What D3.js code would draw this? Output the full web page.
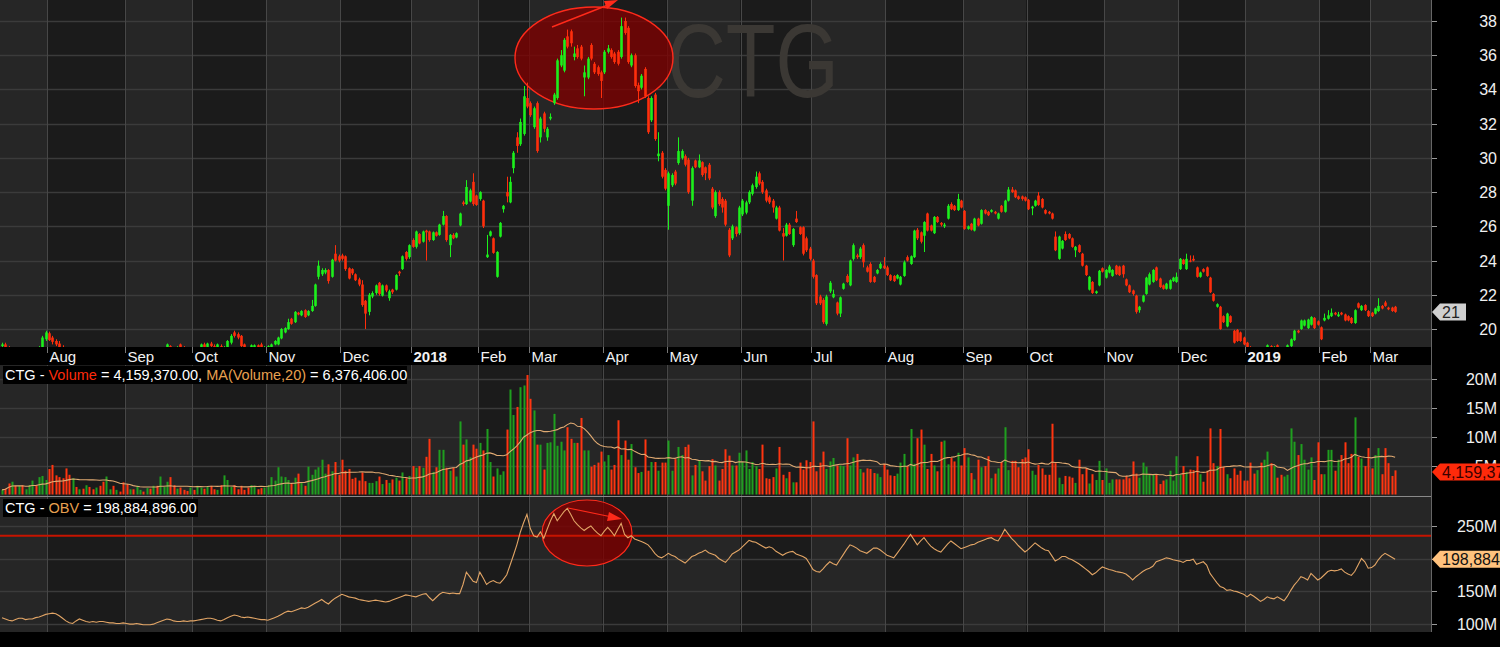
<!DOCTYPE html>
<html><head><meta charset="utf-8">
<script src="https://cdn.jsdelivr.net/npm/d3@7/dist/d3.min.js"></script>
<style>html,body{margin:0;padding:0;background:#000;overflow:hidden}</style>
</head><body>
<svg id="c" width="1500" height="647"></svg>
<script>
// ---------------- DATA ----------------
const ticker = "CTG";
const monthStarts = [14,37,57,79,101,122,142,157,179,198,220,241,263,286,305,328,350,370,392,407];
const monthLabels = ["Aug","Sep","Oct","Nov","Dec","2018","Feb","Mar","Apr","May","Jun","Jul","Aug","Sep","Oct","Nov","Dec","2019","Feb","Mar"];
const priceTicks = [20,22,24,26,28,30,32,34,36,38];
const volTicks = [5,10,15,20];           // millions
const obvTicks = [100,150,200,250];      // millions
const obvLevel = 235;                    // red horizontal reference line (millions)
const maLastValue = 6376406;             // MA(Volume,20) shown in the header

const open = [
19.0,19.1,18.9,18.7,18.8,18.6,18.7,18.5,18.6,18.7,
18.8,18.7,18.9,19.4,19.75,19.5,19.3,19.15,18.95,18.7,
18.6,18.4,18.5,18.3,18.4,18.2,18.3,18.2,18.1,18.3,
18.2,18.0,18.1,18.2,18.1,18.3,18.2,18.1,18.0,18.2,
18.1,18.2,18.4,18.3,18.5,18.4,18.6,18.5,18.7,18.8,
19.0,18.8,18.7,19.1,18.9,18.7,18.6,18.7,18.6,18.8,
19.1,18.95,19.15,19.0,18.9,19.0,18.8,18.9,19.2,19.8,
19.7,19.6,19.1,18.8,18.9,18.95,19.05,19.1,18.85,18.9,
18.95,19.1,19.1,19.45,19.8,20.0,20.6,20.4,20.95,20.8,
21.1,20.8,21.05,21.35,23.05,23.2,23.3,23.45,23.05,24.4,
24.25,24.3,24.25,23.55,23.5,23.2,22.9,22.6,21.65,21.0,
21.9,22.1,22.7,21.95,22.55,21.8,22.3,22.3,23.35,23.5,
24.5,24.2,25.2,24.8,25.55,25.1,25.75,25.7,25.2,25.65,
25.5,26.1,26.6,24.9,25.5,25.35,26.05,27.4,27.3,27.45,
28.6,27.8,27.6,27.5,24.2,25.45,25.3,23.05,25.4,27.0,
28.0,27.4,29.4,31.2,30.8,31.4,33.5,33.2,31.8,33.2,
31.2,32.6,31.2,32.3,33.2,33.5,35.4,35.1,37.1,37.4,
35.9,36.4,36.5,34.7,34.7,36.6,35.5,35.3,35.0,35.0,
36.2,36.3,36.1,36.2,35.9,38.0,37.6,35.4,36.0,34.25,
34.1,35.2,33.5,32.2,33.7,30.1,30.3,29.3,27.2,28.4,
29.2,29.7,30.0,30.1,29.9,27.5,29.85,29.45,29.75,29.45,
29.6,28.2,26.6,28.0,27.6,27.5,25.8,25.3,25.95,25.6,
26.7,26.8,27.4,27.9,28.3,29.1,28.6,28.1,27.7,27.5,
26.45,27.1,25.6,25.45,26.1,24.9,26.45,25.95,25.95,25.3,
24.7,24.0,23.15,21.9,21.7,20.3,22.2,21.85,21.55,20.9,
22.35,23.1,22.55,24.1,24.3,24.2,24.9,23.6,23.8,23.05,
23.25,23.55,23.7,23.6,23.15,23.1,22.95,22.6,23.1,24.2,
23.8,24.2,25.8,25.65,25.45,26.75,26.05,25.6,26.55,26.2,
26.0,26.45,27.3,27.2,26.95,27.5,26.9,25.85,26.15,25.75,
26.45,26.15,26.95,26.85,26.85,26.85,26.45,27.2,26.85,27.5,
28.15,28.1,27.75,27.75,27.7,27.55,27.05,27.2,27.8,27.6,
26.95,26.85,26.75,25.4,24.1,24.7,25.55,25.55,25.3,24.6,
24.9,24.4,23.7,22.3,22.75,22.1,22.55,23.55,23.0,23.3,
23.1,23.7,23.65,23.7,22.9,22.55,22.25,21.95,21.1,21.6,
22.05,22.6,22.75,23.6,22.95,22.55,22.35,22.35,22.8,22.75,
23.5,24.05,23.5,24.0,24.1,23.6,23.05,23.5,23.6,23.0,
22.05,21.3,21.3,20.75,20.15,20.75,19.9,19.95,19.8,19.5,
19.2,18.95,18.7,18.5,18.6,18.4,18.7,19.0,18.8,19.05,
18.9,18.6,18.8,19.0,19.35,19.9,20.0,20.2,20.05,20.25,
20.65,20.45,20.1,20.5,20.6,20.75,20.95,20.75,20.95,20.85,
20.75,20.65,20.35,21.5,21.1,21.4,21.05,20.95,20.9,21.05,
21.35,21.55,21.25,21.25,21.3];

const high = [
19.2,19.2,19.0,18.9,18.9,18.8,18.8,18.7,18.8,18.9,
18.9,19.0,19.6,19.9,19.85,19.6,19.4,19.3,19.05,18.8,
18.7,18.6,18.6,18.5,18.5,18.4,18.4,18.3,18.4,18.4,
18.3,18.2,18.3,18.3,18.4,18.4,18.3,18.2,18.3,18.3,
18.3,18.5,18.5,18.6,18.6,18.7,18.7,18.8,18.9,19.15,
19.05,18.9,19.0,19.15,19.0,18.8,18.8,18.8,18.9,19.15,
19.2,19.2,19.25,19.1,19.15,19.1,19.0,19.35,19.7,19.9,
19.8,19.65,19.15,18.9,19.1,19.1,19.1,19.2,19.0,19.05,
19.15,19.35,19.55,20.05,20.1,20.6,20.65,21.05,21.0,21.1,
21.15,21.1,21.7,22.65,24.0,23.55,23.55,23.5,24.1,24.9,
24.35,24.4,24.3,23.6,23.55,23.25,23.0,22.85,21.7,22.1,
22.2,22.6,22.75,22.6,22.6,22.3,22.35,23.2,23.4,24.3,
24.55,24.95,25.3,25.75,25.6,25.75,25.8,25.75,25.7,25.7,
26.15,26.9,26.65,25.55,25.6,25.65,26.8,27.5,28.7,28.2,
29.1,27.85,28.05,27.55,25.5,25.75,25.35,24.55,26.25,27.25,
28.9,28.9,30.4,31.5,32.3,34.2,34.4,33.3,33.0,33.3,
32.4,32.7,31.8,32.6,33.8,35.8,36.3,37.0,37.5,37.5,
36.5,36.6,36.6,35.4,35.9,36.7,35.6,35.4,35.1,36.3,
36.6,36.4,36.2,36.3,38.2,38.2,37.7,36.1,36.1,34.4,
34.9,35.3,33.6,33.6,33.8,31.5,30.4,29.4,29.2,29.1,
29.3,31.2,30.5,30.2,30.0,29.5,29.9,30.2,29.8,29.5,
29.7,28.3,28.1,28.1,27.7,27.6,25.9,26.1,26.0,27.2,
27.6,27.5,28.1,28.5,29.2,29.2,28.7,28.2,27.8,27.6,
27.2,27.2,25.9,26.2,26.2,25.9,26.9,26.0,26.0,25.4,
24.8,24.1,23.2,22.0,21.8,22.0,22.8,22.3,21.6,21.9,
22.7,23.2,24.05,25.0,24.4,24.8,25.0,23.7,23.9,23.1,
23.5,23.9,24.2,23.7,23.2,23.15,23.2,23.1,24.0,24.3,
24.3,25.8,25.9,25.7,26.3,26.8,26.1,26.6,26.6,26.25,
26.2,27.3,27.4,27.25,27.9,27.55,26.95,26.05,26.2,26.5,
26.5,27.0,27.0,26.9,27.0,26.9,26.8,27.25,27.55,28.3,
28.3,28.15,27.8,27.8,27.75,27.6,27.2,27.55,28.0,27.65,
27.0,26.9,26.8,25.7,25.45,25.2,25.7,25.6,25.35,24.85,
24.95,24.45,23.75,23.1,22.8,22.25,23.45,23.6,23.5,23.75,
23.5,23.75,23.7,23.75,22.95,22.6,22.3,22.0,21.35,22.0,
23.05,23.3,23.5,23.65,23.0,22.6,22.7,22.9,23.05,23.3,
24.15,24.1,24.4,24.3,24.3,23.65,23.35,23.55,23.65,23.05,
22.1,21.5,21.35,20.8,20.95,20.8,19.95,20.0,19.85,19.55,
19.25,19.0,18.75,18.65,18.65,18.65,19.1,19.05,19.0,19.1,
18.95,18.85,19.1,19.45,19.95,19.95,20.55,20.55,20.6,20.75,
20.7,20.5,20.15,20.9,21.1,21.2,21.0,21.0,21.0,20.9,
20.8,20.7,21.15,21.55,21.4,21.45,21.1,21.0,21.25,21.8,
21.4,21.65,21.3,21.3,21.35];

const low = [
18.9,18.8,18.6,18.6,18.5,18.5,18.4,18.4,18.5,18.6,
18.6,18.6,18.8,19.3,19.3,19.1,19.0,18.8,18.6,18.5,
18.3,18.3,18.2,18.2,18.1,18.1,18.1,18.0,18.0,18.1,
17.9,17.9,18.0,18.0,18.0,18.1,18.0,17.9,17.9,18.0,
18.0,18.1,18.2,18.2,18.3,18.3,18.4,18.4,18.6,18.7,
18.7,18.6,18.6,18.8,18.6,18.5,18.5,18.5,18.5,18.7,
18.9,18.9,18.95,18.8,18.85,18.75,18.7,18.85,19.1,19.5,
19.4,18.95,18.7,18.6,18.85,18.9,18.85,18.85,18.8,18.85,
18.9,19.05,19.05,19.4,19.75,19.95,20.25,20.35,20.8,20.75,
20.65,20.75,21.0,21.3,22.9,23.1,23.2,22.65,23.0,23.95,
23.9,24.0,23.4,22.9,23.15,22.8,22.5,21.3,20.0,20.8,
21.8,22.0,21.95,21.9,22.15,21.65,22.05,22.25,23.1,23.45,
24.0,24.1,24.75,24.7,24.95,25.05,24.0,25.1,25.15,25.4,
25.45,26.05,25.1,24.2,25.25,25.3,26.0,27.2,27.25,27.4,
27.2,27.2,27.5,25.9,24.15,25.4,24.4,23.0,25.35,26.8,
27.4,27.35,29.1,30.3,30.7,31.3,32.9,32.4,31.7,30.3,
30.9,31.5,31.0,32.2,33.1,33.4,35.3,35.0,36.4,36.5,
35.7,35.8,35.7,33.6,34.6,35.7,34.9,34.8,33.5,34.9,
36.1,35.8,35.5,35.4,35.8,37.2,35.5,35.3,34.1,33.2,
34.0,33.5,31.4,32.1,31.0,29.8,28.8,28.1,25.8,28.3,
28.4,29.6,29.9,29.5,27.9,27.2,29.4,29.4,28.9,28.7,
28.7,27.0,26.5,27.2,26.8,26.0,24.2,25.2,25.4,25.5,
26.6,26.7,27.3,27.8,28.2,28.4,27.9,27.4,27.3,26.8,
26.4,25.7,24.0,25.4,25.5,24.8,26.2,25.5,24.3,24.5,
24.0,22.95,21.4,21.4,20.3,20.2,22.1,21.8,20.8,20.7,
22.3,22.7,22.5,24.0,24.1,24.1,23.6,23.3,22.7,22.7,
23.2,23.5,23.5,23.1,22.8,22.75,22.9,22.55,23.05,23.95,
23.75,24.15,25.2,25.0,24.5,25.7,25.7,25.55,26.2,26.0,
25.9,26.4,26.95,26.9,26.9,27.05,25.8,25.8,25.75,25.7,
26.0,26.1,26.7,26.6,26.8,26.7,26.4,26.8,26.8,27.45,
27.95,27.65,27.55,27.5,27.45,26.95,26.65,27.15,27.2,27.05,
26.7,26.7,26.4,24.55,24.05,24.65,25.15,25.25,24.75,24.2,
24.45,23.65,23.1,22.25,22.05,22.05,22.5,23.3,22.95,23.25,
23.05,23.15,23.1,23.0,22.5,22.1,21.95,20.9,20.95,21.55,
22.0,22.55,22.7,22.8,22.4,22.3,22.3,22.3,22.75,22.7,
23.45,23.75,23.45,23.9,23.95,23.0,23.0,23.3,23.05,22.1,
21.6,21.25,19.95,20.35,20.1,20.35,19.15,19.25,19.25,19.05,
18.9,18.65,18.45,18.45,18.35,18.35,18.65,18.75,18.75,18.85,
18.55,18.55,18.75,18.95,19.3,19.75,19.95,20.15,20.0,20.2,
20.0,20.2,19.35,20.45,20.55,20.7,20.8,20.7,20.8,20.45,
20.45,20.3,20.3,21.2,21.05,21.05,20.7,20.7,20.85,21.0,
21.15,21.3,21.1,21.0,20.95];

const close = [
19.1,18.9,18.7,18.8,18.6,18.7,18.5,18.6,18.7,18.8,
18.7,18.9,19.5,19.8,19.35,19.25,19.1,18.9,18.7,18.6,
18.4,18.5,18.3,18.4,18.2,18.3,18.2,18.1,18.3,18.2,
18.0,18.1,18.2,18.1,18.3,18.2,18.1,18.0,18.2,18.1,
18.2,18.4,18.3,18.5,18.4,18.6,18.5,18.7,18.8,19.1,
18.8,18.7,18.9,18.9,18.7,18.6,18.7,18.6,18.8,19.1,
18.95,19.15,19.0,18.9,19.1,18.8,18.9,19.3,19.6,19.6,
19.5,19.0,18.8,18.75,19.05,19.05,18.9,18.9,18.95,19.0,
19.1,19.3,19.5,20.0,20.05,20.4,20.3,21.0,20.85,21.05,
20.7,21.05,21.35,22.6,23.7,23.45,23.45,22.8,24.05,24.0,
24.0,24.1,23.5,22.95,23.25,22.85,22.6,21.4,20.9,22.0,
22.1,22.55,22.05,22.55,22.25,22.2,22.15,23.15,23.25,24.25,
24.1,24.9,24.8,25.7,25.0,25.7,25.65,25.2,25.65,25.45,
26.1,26.6,25.2,25.5,25.3,25.6,26.75,27.3,28.3,28.1,
27.3,27.25,28.0,26.0,24.35,25.7,24.45,24.5,26.2,27.2,
27.75,28.6,30.3,30.7,32.1,33.6,33.0,32.5,32.9,30.4,
32.3,31.7,31.7,32.4,33.7,35.7,36.0,36.9,36.5,36.7,
36.1,35.9,35.8,35.0,35.8,35.8,35.0,34.9,34.5,36.2,
36.4,35.9,35.6,35.5,37.7,37.3,35.6,36.0,34.2,33.9,
34.8,33.6,31.5,33.5,31.1,30.25,28.9,28.2,29.1,29.0,
28.5,30.4,30.4,29.6,28.0,29.4,29.45,29.85,29.0,29.1,
28.8,27.1,28.0,27.3,27.1,26.1,24.3,26.0,25.55,27.1,
27.5,27.4,28.0,28.4,28.9,28.5,28.0,27.5,27.4,27.1,
27.1,25.75,25.4,26.1,25.55,25.85,26.25,25.55,24.4,24.6,
24.1,23.05,21.5,21.5,20.4,21.9,22.7,22.05,20.9,21.85,
22.65,22.75,24.0,24.9,24.2,24.7,23.9,23.35,22.75,22.75,
23.45,23.8,23.55,23.15,22.85,22.8,23.15,23.05,23.9,24.0,
24.25,25.75,25.3,25.1,26.25,25.75,25.75,26.55,26.25,26.1,
26.1,27.2,27.0,26.95,27.6,27.1,25.85,26.0,25.8,26.45,
26.05,26.95,26.75,26.65,26.95,26.75,26.75,26.85,27.5,28.15,
28.0,27.7,27.6,27.6,27.5,27.0,27.15,27.5,27.25,27.1,
26.75,26.75,26.45,24.6,25.4,25.15,25.2,25.3,24.8,24.8,
24.5,23.7,23.15,23.05,22.1,22.2,23.4,23.35,23.45,23.65,
23.45,23.2,23.15,23.2,22.55,22.15,22.05,21.0,21.3,21.95,
23.0,23.2,23.45,22.85,22.45,22.35,22.65,22.85,23.0,23.05,
24.1,23.8,24.1,23.95,24.0,23.05,23.3,23.35,23.1,22.15,
21.65,21.45,20.0,20.4,20.9,20.4,19.2,19.3,19.3,19.1,
18.95,18.7,18.5,18.6,18.4,18.6,19.05,18.8,18.95,18.9,
18.6,18.8,19.05,19.4,19.9,19.8,20.5,20.5,20.55,20.7,
20.05,20.25,19.4,20.65,20.8,20.95,20.85,20.85,20.85,20.5,
20.5,20.35,21.1,21.25,21.35,21.1,20.75,20.75,21.2,21.35,
21.2,21.35,21.15,21.05,21.0];

// volume, millions of shares
const volume = [
0.8,1.0,1.9,2.2,1.5,1.5,1.6,0.9, 1.6,2.4,1.6,3.0,3.2,2.5,4.4,5.1,
3.3,3.0,2.8,4.5,3.4,2.8,1.3,0.9, 1.0,1.6,1.3,0.9,1.2,1.5,2.2,3.1,
0.9,1.5,0.8,0.5,2.1,1.8,0.9,0.9, 1.5,0.8,0.5,1.1,1.0,1.5,1.5,3.1,
1.3,2.2,3.0,1.6,1.0,1.2,0.8,0.6, 1.2,0.8,1.5,1.2,1.0,1.4,1.5,0.9,
0.8,1.6,3.3,2.5,1.3,1.6,0.9,1.5, 0.8,1.2,1.6,1.5,0.9,1.1,1.2,1.6,
3.0,2.4,4.7,3.1,3.0,2.5,1.8,2.9, 3.6,2.0,1.5,4.8,3.4,4.3,4.7,6.0,
3.6,5.2,4.0,5.6,3.4,6.0,4.1,4.4, 2.7,2.9,2.4,3.8,2.3,2.0,2.0,2.3,
3.1,1.8,2.5,2.0,2.6,2.9,2.4,3.8, 2.8,3.2,4.9,4.6,4.9,4.6,6.5,9.6,
3.9,4.7,7.7,7.7,4.6,4.1,4.6,3.1, 12.6,8.6,9.5,6.4,8.6,7.9,8.9,7.6,
11.3,5.6,3.1,4.5,3.4,4.0,11.2,18.1, 13.7,15.1,18.5,18.8,20.6,16.5,14.5,8.6,
8.6,4.3,8.9,9.0,13.9,8.4,9.1,7.6, 11.6,9.6,8.9,8.9,13.2,7.6,7.6,4.8,
5.1,5.5,7.4,5.7,6.8,4.3,5.1,12.8, 6.8,9.3,6.0,8.7,4.7,3.7,3.9,9.5,
4.1,5.6,5.6,4.1,5.5,5.5,9.3,4.1, 6.1,8.2,6.8,8.2,8.6,3.3,5.1,5.9,
4.0,2.4,4.9,6.1,5.0,2.4,4.4,7.8, 6.7,5.0,5.0,7.2,5.6,7.6,4.4,5.6,
4.9,4.4,8.6,2.8,2.7,3.0,4.5,8.2, 3.4,2.8,3.9,2.1,2.1,5.5,4.3,5.9,
5.6,12.6,4.0,5.5,7.4,4.4,5.7,6.3, 5.0,5.0,4.9,9.7,5.0,6.4,7.0,4.4,
3.8,4.5,4.4,3.7,3.6,3.0,5.3,4.3, 3.3,3.2,3.6,5.5,7.0,4.9,11.3,5.3,
9.7,11.2,8.6,4.4,7.0,5.0,4.0,9.1, 9.3,5.2,6.3,5.7,7.2,5.0,8.0,6.4,
3.7,2.6,6.0,4.7,4.9,6.6,2.8,3.6, 4.5,5.6,11.6,
4.2,5.8,5.8,4.7,6.1,6.4,7.8,4.1,3.4,5.1,
4.5,3.4,3.4,12.2,5.4,2.9,1.8,3.2,3.1,2.9,
2.0,6.0,3.5,4.5,1.9,3.5,2.5,5.8,2.5,4.5,
2.0,2.6,2.6,2.6,2.6,3.2,2.8,5.7,3.6,2.9,
5.5,4.8,3.4,3.4,3.4,1.8,2.4,2.6,4.1,2.4,
6.6,3.4,4.9,3.9,4.3,4.2,6.6,3.5,2.2,4.1,
11.4,5.4,4.9,11.3,4.8,3.5,2.8,4.5,3.4,4.1,
2.4,2.4,5.5,3.6,4.2,5.5,6.0,7.4,5.4,4.9,
2.9,3.4,3.1,3.4,11.4,9.1,6.8,8.7,6.0,4.3,
6.4,2.5,9.0,3.5,3.5,7.7,7.7,4.1,6.0,6.8,
9.0,5.4,7.0,13.3,6.5,6.2,4.9,8.0,4.5,6.8,
8.0,3.5,8.0,5.4,3.2,4.15937];

// On-balance volume, millions
const obv = [
109,107,105,104,106,108,108,106,107,107,
109,110,112,114,115,116,115,112,108,104,
101,100,104,107,105,103,102,103,102,103,
103,102,101,101,100,100,101,100,99,99,
100,99,98,98,98,99,101,103,105,107,
106,104,103,103,104,103,104,104,105,106,
107,108,108,107,105,104,106,109,111,113,
112,110,109,110,109,108,107,106,106,105,
107,109,111,114,117,119,118,120,122,124,
123,125,128,131,134,137,133,130,135,139,
142,145,143,141,140,139,137,136,135,134,
135,136,135,134,133,134,136,138,140,142,
144,143,142,141,143,145,146,140,135,140,
145,148,147,146,147,146,146,160,179,172,
165,163,179,170,160,164,166,163,162,168,
175,190,205,221,240,255,268,246,235,233,
241,231,245,258,269,258,265,272,277,268,
258,252,247,243,247,250,244,239,235,242,
248,242,235,245,254,237,232,235,230,228,
226,224,221,215,208,203,201,204,208,205,
203,199,196,193,198,203,205,208,210,213,
209,207,205,200,197,194,200,207,210,213,
218,223,228,226,225,222,219,216,218,216,
211,208,205,208,210,211,207,205,203,200,
192,183,180,179,184,190,195,192,190,198,
206,214,221,219,216,212,210,208,212,216,
216,213,209,205,203,201,208,215,222,230,
237,229,221,227,232,225,219,215,212,210,
216,222,227,223,219,215,217,219,221,222,
225,227,229,231,232,229,227,235,245,238,
231,226,220,215,210,214,219,224,220,216,
213,212,204,196,199,203,203,200,198,195,
192,188,184,180,175,178,183,187,185,183,
182,180,179,178,176,172,167,172,176,180,
183,185,188,195,197,199,201,200,198,197,
196,194,197,197,199,191,193,195,190,177,
170,163,157,155,151,152,150,149,147,145,
141,145,142,138,134,137,141,139,138,141,
138,135,142,151,159,165,172,170,167,177,
172,167,170,175,180,182,181,182,184,179,
176,174,180,190,200,195,185,186,190,198,
204,208,205,202,198.884896];

// ---------------- CHART ----------------
const W = 1500, H = 647, PW = 1431;
const n = Math.min(open.length, high.length, low.length, close.length, volume.length, obv.length);
const step = 3.365;
const x = d3.scaleLinear().domain([0, 414]).range([2, 2 + 414 * step]);
const yP = d3.scaleLinear().domain([20, 38]).range([329, 21]);
const yV = d3.scaleLinear().domain([0, 20]).range([494.5, 378.5]);
const yO = d3.scaleLinear().domain([150, 250]).range([591, 526]);
const panels = [{t:0,b:347},{t:365,b:496},{t:497,b:632}];
const FONT = "'Liberation Sans', Arial, sans-serif";
const GREEN = "#1cf01c", RED = "#ff2e0c", VGREEN = "#1f9f1f", VRED = "#ff3510";

const svg = d3.select("#c");
svg.append("rect").attr("width", W).attr("height", H).attr("fill", "#000");

// month stripes
const bounds = [0, ...monthStarts.map(i => x(i) - step / 2), PW];
panels.forEach(p => {
  for (let k = 0; k < bounds.length - 1; k++) {
    svg.append("rect").attr("x", bounds[k]).attr("y", p.t)
      .attr("width", bounds[k + 1] - bounds[k]).attr("height", p.b - p.t)
      .attr("fill", k % 2 === 0 ? "#262626" : "#1b1b1b");
  }
});

// clip paths
const defs = svg.append("defs");
panels.forEach((p, i) => {
  defs.append("clipPath").attr("id", "clip" + i).append("rect")
    .attr("x", 0).attr("y", p.t).attr("width", PW).attr("height", p.b - p.t);
});
defs.append("clipPath").attr("id", "clipR").append("rect")
  .attr("x", PW).attr("y", 0).attr("width", W - PW).attr("height", H);

// horizontal gridlines
function hgrid(ticks, scale) {
  ticks.forEach(t => {
    const yy = Math.round(scale(t)) + 0.5;
    svg.append("line").attr("x1", 0).attr("x2", PW).attr("y1", yy).attr("y2", yy)
      .attr("stroke", "#3b3b3b").attr("stroke-width", 1.3);
  });
}
hgrid(priceTicks, yP); hgrid(volTicks, yV); hgrid(obvTicks, yO);

// vertical month gridlines
panels.forEach(p => {
  monthStarts.forEach(i => {
    const xx = Math.round(x(i) - step / 2) + 0.5;
    svg.append("line").attr("x1", xx).attr("x2", xx).attr("y1", p.t).attr("y2", p.b)
      .attr("stroke", "#474747").attr("stroke-width", 1);
  });
});

// watermark
svg.append("text").attr("x", 667).attr("y", 97).text(ticker)
  .attr("font-family", FONT).attr("font-size", 104).attr("fill", "#3b3834")
  .attr("textLength", 172).attr("lengthAdjust", "spacingAndGlyphs");

// annotation ellipse on price
const gP = svg.append("g").attr("clip-path", "url(#clip0)");
gP.append("ellipse").attr("cx", 594).attr("cy", 58).attr("rx", 79).attr("ry", 51)
  .attr("fill", "rgba(125,0,0,0.78)").attr("stroke", "#ff2a1a").attr("stroke-width", 1.4);

// candles
const idx = d3.range(n);
gP.selectAll("line.w").data(idx).join("line")
  .attr("x1", i => Math.round(x(i)) + 0.5).attr("x2", i => Math.round(x(i)) + 0.5)
  .attr("y1", i => yP(high[i])).attr("y2", i => yP(low[i]))
  .attr("stroke", i => close[i] >= open[i] ? GREEN : RED).attr("stroke-width", 1);
gP.selectAll("rect.b").data(idx).join("rect")
  .attr("x", i => Math.round(x(i)) - 0.8).attr("width", 2.6)
  .attr("y", i => yP(Math.max(open[i], close[i])))
  .attr("height", i => Math.max(1, Math.abs(yP(open[i]) - yP(close[i]))))
  .attr("fill", i => close[i] >= open[i] ? GREEN : RED);

// price arrow
gP.append("line").attr("x1", 552).attr("y1", 27).attr("x2", 608).attr("y2", 5)
  .attr("stroke", "#ff2a1a").attr("stroke-width", 1.4);
gP.append("polygon").attr("points", "618,0 604,1 607,9").attr("fill", "#ff2a1a");

// date band
svg.append("rect").attr("x", 0).attr("y", 347).attr("width", PW).attr("height", 18).attr("fill", "#000");
monthStarts.forEach((i, k) => {
  const xx = Math.round(x(i) - step / 2) + 0.5;
  svg.append("line").attr("x1", xx).attr("x2", xx).attr("y1", 347).attr("y2", 353)
    .attr("stroke", "#777").attr("stroke-width", 1);
  const isYear = /^\d{4}$/.test(monthLabels[k]);
  svg.append("text").attr("x", xx + 2).attr("y", 362).text(monthLabels[k])
    .attr("font-family", FONT).attr("font-size", 15)
    .attr("font-weight", isYear ? "bold" : "normal").attr("fill", "#f2f2f2");
});

// volume bars
const gV = svg.append("g").attr("clip-path", "url(#clip1)");
gV.selectAll("rect").data(idx).join("rect")
  .attr("x", i => Math.round(x(i)) - 0.5).attr("width", 2)
  .attr("y", i => yV(volume[i])).attr("height", i => yV(0) - yV(volume[i]))
  .attr("fill", i => close[i] >= open[i] ? VGREEN : VRED);
// MA(Volume,20)
const ma = idx.map(i => d3.mean(volume.slice(Math.max(0, i - 19), i + 1)));
gV.append("path").datum(idx)
  .attr("d", d3.line().x(i => x(i)).y(i => yV(ma[i])))
  .attr("fill", "none").attr("stroke", "#e0aa72").attr("stroke-width", 1.1);

// panel separators
svg.append("line").attr("x1", 0).attr("x2", PW).attr("y1", 496.5).attr("y2", 496.5)
  .attr("stroke", "#8a8a8a").attr("stroke-width", 1);

// OBV panel
const gO = svg.append("g").attr("clip-path", "url(#clip2)");
gO.append("ellipse").attr("cx", 587).attr("cy", 533).attr("rx", 45).attr("ry", 33)
  .attr("fill", "rgba(125,0,0,0.8)").attr("stroke", "#ff2a1a").attr("stroke-width", 1.2);
gO.append("line").attr("x1", 0).attr("x2", PW).attr("y1", yO(obvLevel)).attr("y2", yO(obvLevel))
  .attr("stroke", "#c61400").attr("stroke-width", 1.8);
gO.append("path").datum(idx)
  .attr("d", d3.line().x(i => x(i)).y(i => yO(obv[i])))
  .attr("fill", "none").attr("stroke", "#e2a566").attr("stroke-width", 1.1);
gO.append("line").attr("x1", 568).attr("y1", 508).attr("x2", 612).attr("y2", 517)
  .attr("stroke", "#ff2a1a").attr("stroke-width", 1.2);
gO.append("polygon").attr("points", "622,519 609,512 607,521").attr("fill", "#ff2a1a");

// plot right border
svg.append("line").attr("x1", PW + 0.5).attr("x2", PW + 0.5).attr("y1", 0).attr("y2", 632)
  .attr("stroke", "#666").attr("stroke-width", 1);

// headers
function header(y, parts, boxW) {
  svg.append("rect").attr("x", 3).attr("y", y - 14).attr("width", boxW).attr("height", 18).attr("fill", "#000");
  const t = svg.append("text").attr("x", 5).attr("y", y).attr("font-family", FONT).attr("font-size", 14.5);
  parts.forEach(p => t.append("tspan").text(p[0]).attr("fill", p[1]));
}
const f2 = d3.format(",.2f");
header(380, [[ticker + " - ", "#fff"], ["Volume", "#ff2a0a"],
  [" = " + f2(Math.round(volume[n - 1] * 1e6)) + ", ", "#fff"], ["MA(Volume,20)", "#e8a050"],
  [" = " + f2(maLastValue), "#fff"]], 404);
header(513, [[ticker + " - ", "#fff"], ["OBV", "#e8a050"],
  [" = " + f2(Math.round(obv[n - 1] * 1e6)), "#fff"]], 195);

// right axes
function axisLabels(ticks, scale, fmt) {
  ticks.forEach(t => {
    const yy = Math.round(scale(t)) + 0.5;
    svg.append("line").attr("x1", PW + 1).attr("x2", PW + 6).attr("y1", yy).attr("y2", yy)
      .attr("stroke", "#999").attr("stroke-width", 1);
    svg.append("text").attr("x", 1497).attr("y", yy).attr("dy", "0.36em")
      .attr("text-anchor", "end").attr("font-family", FONT).attr("font-size", 16)
      .attr("fill", "#f0f0f0").text(fmt(t));
  });
}
axisLabels(priceTicks, yP, d => d);
axisLabels(volTicks, yV, d => d + "M");
axisLabels(obvTicks, yO, d => d + "M");

// value tags (clipped at the right edge of the axis strip, as in the source)
const gT = svg.append("g").attr("clip-path", "url(#clipR)");
function tag(yc, label, bg, fg, w) {
  gT.append("polygon").attr("points",
    `${PW + 1},${yc} ${PW + 9},${yc - 8.5} ${PW + 1 + w},${yc - 8.5} ${PW + 1 + w},${yc + 8.5} ${PW + 9},${yc + 8.5}`)
    .attr("fill", bg);
  gT.append("text").attr("x", PW + 11).attr("y", yc).attr("dy", "0.36em")
    .attr("font-family", FONT).attr("font-size", 16).attr("fill", fg).text(label);
}
tag(yP(close[n - 1]), d3.format(".0f")(close[n - 1]), "#cfcfcf", "#222", 34);
tag(yV(volume[n - 1]) + 1.5, d3.format(",")(Math.round(volume[n - 1] * 1e6)), "#ff2a0a", "#3a0000", 80);
tag(yO(obv[n - 1]), d3.format(",")(Math.round(obv[n - 1] * 1e6)), "#ffc27e", "#111", 80);
</script>
</body></html>
